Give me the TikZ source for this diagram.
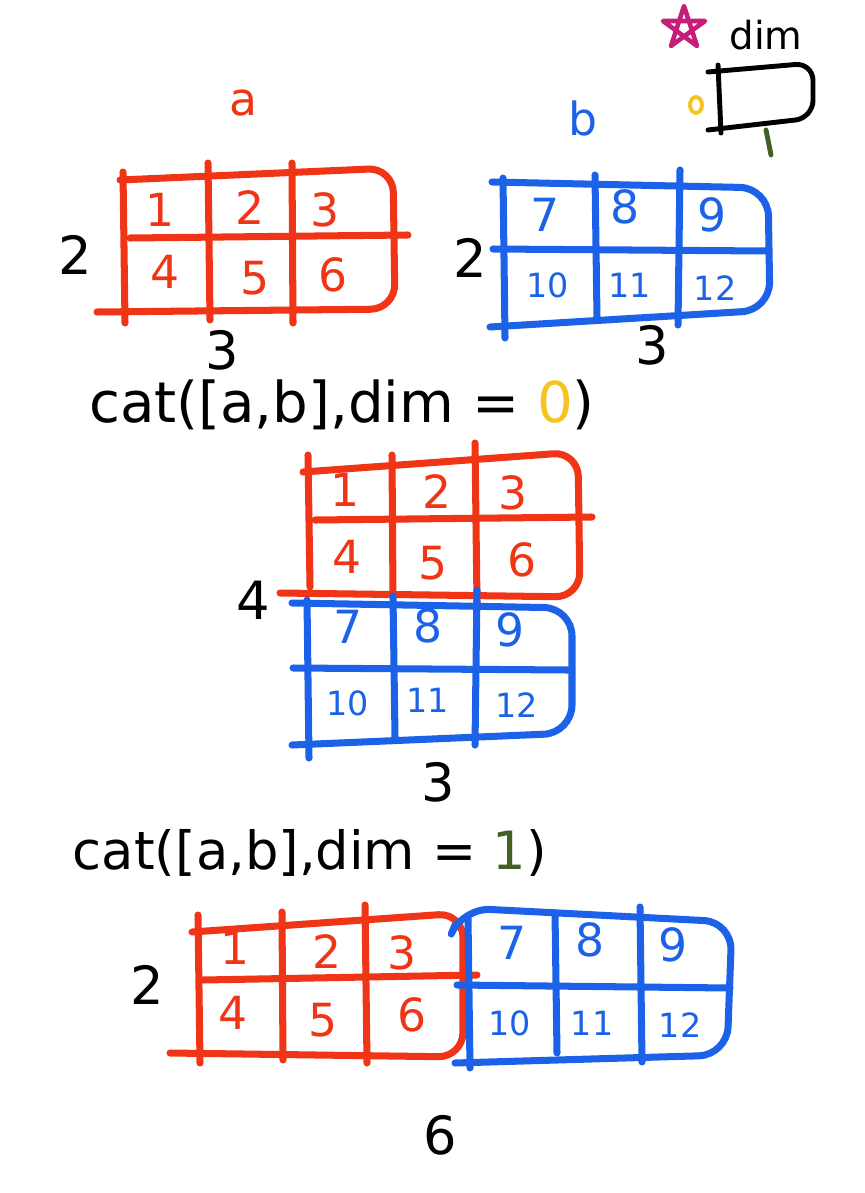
\documentclass[tikz,border=0pt]{standalone}
\usepackage{fontspec}
\setmainfont{DejaVu Sans}
\usepackage{tikz}
\usetikzlibrary{positioning}
\definecolor{penred}{RGB}{240,52,22}
\definecolor{penblue}{RGB}{28,98,232}
\definecolor{penyellow}{RGB}{246,196,30}
\definecolor{pengreen}{RGB}{66,96,38}
\definecolor{penpink}{RGB}{196,30,120}

\tikzset{
  redline/.style={penred,line width=4pt,line cap=round,line join=round},
  blueline/.style={penblue,line width=4pt,line cap=round,line join=round},
  inkline/.style={black,line width=2.8pt,line cap=round,line join=round},
  rednum/.style={penred,font=\fontsize{26}{28}\selectfont},
  bluenum/.style={penblue,font=\fontsize{26}{28}\selectfont},
  bluesmall/.style={penblue,font=\fontsize{19}{21}\selectfont},
  sizelabel/.style={font=\fontsize{30}{32}\selectfont}
}

\begin{document}
\begin{tikzpicture}[x=0.02cm,y=-0.02cm]
\useasboundingbox (0,0) rectangle (865,1193);

% legend
\draw[penpink,line width=2.6pt,line join=round]
  (684,6) -- (671,46) -- (705,21) -- (663,21) -- (697,46) -- cycle;
\node[font=\fontsize{22}{24}\selectfont] (dimlabel) at (766,35) {dim};
\draw[inkline,rounded corners=10pt] (708,72) -- (813,63) -- (813,118) -- (708,130);
\draw[inkline] (718,65) -- (721,133);
\draw[penyellow,line width=2.2pt] (696,105) ellipse (6 and 8);
\draw[pengreen,line width=2.8pt,line cap=round] (766,130) -- (771,155);

% a
\node[penred,font=\fontsize{26}{28}\selectfont] (aname) at (243,103) {a};
\draw[redline,rounded corners=14pt] (120,180) -- (393,168) -- (395,309) -- (97,312);
\draw[redline] (123,172) -- (125,323);
\draw[redline] (130,238) -- (408,235);
\draw[redline] (208,163) -- (210,320);
\draw[redline] (292,163) -- (293,323);
\node[rednum] (a1) at (160,210) {1};
\node[rednum] (a2) at (250,208) {2};
\node[rednum] (a3) at (325,210) {3};
\node[rednum] (a4) at (165,272) {4};
\node[rednum] (a5) at (255,278) {5};
\node[rednum] (a6) at (333,275) {6};
\node[sizelabel] (arows) at (75,255) {2};
\node[sizelabel] (acols) at (222,350) {3};

% b
\node[penblue,font=\fontsize{26}{28}\selectfont] (bname) at (583,118) {b};
\draw[blueline,rounded corners=16pt] (492,182) -- (768,188) -- (770,310) -- (490,327);
\draw[blueline] (503,178) -- (505,338);
\draw[blueline] (493,249) -- (767,251);
\draw[blueline] (595,175) -- (597,318);
\draw[blueline] (680,170) -- (678,325);
\node[bluenum] (b7) at (545,215) {7};
\node[bluenum] (b8) at (625,207) {8};
\node[bluenum] (b9) at (712,215) {9};
\node[bluesmall] (b10) at (548,285) {10};
\node[bluesmall] (b11) at (630,285) {11};
\node[bluesmall] (b12) at (715,288) {12};
\node[sizelabel] (brows) at (470,258) {2};
\node[sizelabel] (bcols) at (652,345) {3};

% dim = 0
\node[font=\fontsize{32}{34}\selectfont] (catzero) at (342,405)
  {cat([a,b],dim = \textcolor{penyellow}{0})};
\draw[redline,rounded corners=14pt] (303,472) -- (578,452) -- (580,597) -- (280,593);
\draw[redline] (308,455) -- (310,587);
\draw[redline] (315,520) -- (592,517);
\draw[redline] (392,455) -- (393,598);
\draw[redline] (475,443) -- (477,603);
\node[rednum] (c1) at (345,490) {1};
\node[rednum] (c2) at (437,492) {2};
\node[rednum] (c3) at (513,493) {3};
\node[rednum] (c4) at (347,557) {4};
\node[rednum] (c5) at (433,563) {5};
\node[rednum] (c6) at (522,560) {6};
\draw[blueline,rounded corners=16pt] (292,603) -- (572,608) -- (572,733) -- (292,745);
\draw[blueline] (307,600) -- (309,758);
\draw[blueline] (293,668) -- (568,670);
\draw[blueline] (393,596) -- (395,737);
\draw[blueline] (477,590) -- (475,745);
\node[bluenum] (c7) at (348,627) {7};
\node[bluenum] (c8) at (428,626) {8};
\node[bluenum] (c9) at (510,630) {9};
\node[bluesmall] (c10) at (348,703) {10};
\node[bluesmall] (c11) at (428,700) {11};
\node[bluesmall] (c12) at (517,705) {12};
\node[sizelabel] (crows) at (253,600) {4};
\node[sizelabel] (ccols) at (438,782) {3};

% dim = 1
\node[font=\fontsize{30}{32}\selectfont] (catone) at (310,853)
  {cat([a,b],dim = \textcolor{pengreen}{1})};
\draw[redline,rounded corners=14pt] (192,932) -- (463,913) -- (463,1057) -- (170,1053);
\draw[redline] (198,915) -- (200,1063);
\draw[redline] (203,980) -- (477,975);
\draw[redline] (282,912) -- (283,1060);
\draw[redline] (365,905) -- (367,1063);
\node[rednum] (d1) at (235,948) {1};
\node[rednum] (d2) at (327,952) {2};
\node[rednum] (d3) at (402,953) {3};
\node[rednum] (d4) at (233,1013) {4};
\node[rednum] (d5) at (323,1020) {5};
\node[rednum] (d6) at (412,1015) {6};
\draw[blueline,rounded corners=16pt] (455,925) -- (462,908) -- (732,922) -- (727,1055) -- (455,1063);
\draw[blueline] (468,918) -- (470,1068);
\draw[blueline] (457,985) -- (730,988);
\draw[blueline] (555,913) -- (557,1053);
\draw[blueline] (640,907) -- (642,1062);
\node[bluenum] (d7) at (512,943) {7};
\node[bluenum] (d8) at (590,940) {8};
\node[bluenum] (d9) at (673,945) {9};
\node[bluesmall] (d10) at (510,1023) {10};
\node[bluesmall] (d11) at (592,1023) {11};
\node[bluesmall] (d12) at (680,1025) {12};
\node[sizelabel] (drows) at (147,985) {2};
\node[sizelabel] (dcols) at (440,1135) {6};
\end{tikzpicture}
\end{document}
